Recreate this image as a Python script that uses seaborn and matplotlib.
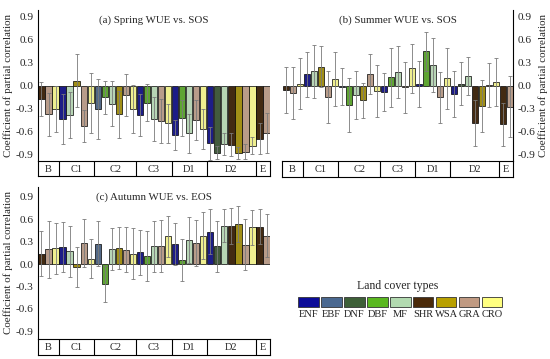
import matplotlib
matplotlib.use('Agg')
import matplotlib.pyplot as plt
import seaborn as sns
import numpy as np
import pandas as pd
from matplotlib.patches import Rectangle

sns.set_style("white")
plt.rcParams['font.family'] = ['Liberation Serif', 'DejaVu Serif']

# land cover type of every bar slot (same order in all panels)
slot_lc = ['SHR', 'GRA', 'CRO',
           'ENF', 'MF', 'WSA', 'GRA', 'CRO',
           'EBF', 'DBF', 'MF', 'WSA', 'GRA', 'CRO',
           'ENF', 'DBF', 'MF', 'GRA', 'CRO',
           'ENF', 'DBF', 'MF', 'GRA', 'CRO',
           'ENF', 'DNF', 'MF', 'SHR', 'WSA', 'GRA', 'CRO',
           'SHR', 'GRA']
zones = ['B', 'C1', 'C2', 'C3', 'D1', 'D2', 'E']
zone_sizes = [3, 5, 6, 5, 5, 7, 2]

lc_types = ['ENF', 'EBF', 'DNF', 'DBF', 'MF', 'SHR', 'WSA', 'GRA', 'CRO']
lc_colors = ['#0c0c98', '#4a6890', '#3e6038', '#5ab820', '#b2dab0',
             '#4a2a0a', '#b8a000', '#c09a82', '#ffff80']

# (a) Spring WUE vs. SOS
spring_val = [-0.17, -0.37, -0.30,
              -0.43, -0.38, 0.07, -0.52, -0.22,
              -0.30, -0.15, -0.23, -0.37, -0.12, -0.30,
              -0.38, -0.22, -0.43, -0.46, -0.49,
              -0.64, -0.42, -0.62, -0.44, -0.56,
              -0.75, -0.87, -0.76, -0.77, -0.88, -0.86, -0.78,
              -0.69, -0.61]
spring_err = [0.22, 0.28, 0.30,
              0.33, 0.30, 0.35, 0.21, 0.39,
              0.39, 0.22, 0.29, 0.31, 0.27, 0.31,
              0.27, 0.24, 0.29, 0.29, 0.25,
              0.20, 0.23, 0.26, 0.26, 0.26,
              0.22, 0.08, 0.14, 0.15, 0.08, 0.10, 0.11,
              0.20, 0.26]

# (b) Summer WUE vs. SOS
summer_val = [-0.05, -0.09, 0.03,
              0.15, 0.19, 0.25, -0.15, 0.09,
              -0.01, -0.25, -0.12, -0.19, 0.16, -0.07,
              -0.08, 0.11, 0.18, -0.02, 0.23,
              0.02, 0.45, 0.27, -0.15, 0.10,
              -0.10, 0.03, 0.13, -0.48, -0.26, 0.01, 0.05,
              -0.50, -0.27]
summer_err = [0.30, 0.34, 0.33,
              0.29, 0.35, 0.27, 0.34, 0.35,
              0.24, 0.35, 0.31, 0.23, 0.26, 0.34,
              0.25, 0.38, 0.34, 0.33, 0.32,
              0.30, 0.26, 0.35, 0.33, 0.40,
              0.30, 0.28, 0.25, 0.30, 0.34, 0.29, 0.31,
              0.28, 0.40]

# (c) Autumn WUE vs. EOS
autumn_val = [0.14, 0.20, 0.21,
              0.23, 0.17, -0.04, 0.28, 0.07,
              0.27, -0.27, 0.20, 0.21, 0.19, 0.14,
              0.16, 0.11, 0.24, 0.24, 0.37,
              0.27, 0.05, 0.32, 0.28, 0.38,
              0.43, 0.24, 0.51, 0.51, 0.54, 0.26, 0.49,
              0.50, 0.38]
autumn_err = [0.30, 0.38, 0.34,
              0.33, 0.34, 0.27, 0.32, 0.26,
              0.30, 0.24, 0.28, 0.28, 0.30, 0.34,
              0.30, 0.33, 0.34, 0.35, 0.27,
              0.28, 0.28, 0.31, 0.31, 0.31,
              0.30, 0.34, 0.22, 0.24, 0.24, 0.34, 0.23,
              0.23, 0.29]

color_of = dict(zip(lc_types, lc_colors))
n = len(slot_lc)
slot_pal = {i: color_of[slot_lc[i]] for i in range(n)}

fig = plt.figure(figsize=(5.5, 3.59), dpi=100)
fs = 7.5


def draw_panel(rect, strip_rect, vals, errs, title, side, ylim):
    ax = fig.add_axes(rect)
    df = pd.DataFrame({'slot': np.arange(n), 'r': vals})
    sns.barplot(data=df, x='slot', y='r', hue='slot', palette=slot_pal,
                legend=False, width=0.9, edgecolor='black', linewidth=0.5,
                errorbar=None, ax=ax)
    ax.errorbar(np.arange(n), vals, yerr=errs, fmt='none', ecolor='#7a7a7a',
                elinewidth=0.6, capsize=1.5, capthick=0.6, zorder=5)
    ax.set_xlim(-0.5, n - 0.5)
    ax.set_ylim(*ylim)
    ax.set_xticks([])
    ax.set_xlabel('')
    ax.set_yticks([-0.9, -0.6, -0.3, 0.0, 0.3, 0.6, 0.9])
    ax.set_yticklabels(['-0.9', '-0.6', '-0.3', '0.0', '0.3', '0.6', '0.9'])
    ax.tick_params(axis='y', length=0, pad=3, labelsize=8.2)
    for s in ['top', 'bottom', 'left', 'right']:
        ax.spines[s].set_visible(False)
    ax.spines[side].set_visible(True)
    ax.spines[side].set_linewidth(0.8)
    ax.spines[side].set_color('black')
    ax.set_ylabel('Coefficient of partial correlation', fontsize=7.9,
                  labelpad=2)
    if side == 'right':
        ax.yaxis.tick_right()
        ax.yaxis.set_label_position('right')
    ax.text(0.5, 0.935, title, transform=ax.transAxes, ha='center',
            va='center', fontsize=fs + 0.3)

    # climate zone strip
    sx = fig.add_axes(strip_rect)
    sx.set_xlim(-0.5, n - 0.5)
    sx.set_ylim(0, 1)
    sx.set_xticks([])
    sx.set_yticks([])
    for s in sx.spines.values():
        s.set_visible(True)
        s.set_linewidth(0.8)
        s.set_color('black')
    edges = np.cumsum([0] + zone_sizes) - 0.5
    for e in edges[1:-1]:
        sx.axvline(e, color='black', lw=0.8)
    for z, a, b in zip(zones, edges[:-1], edges[1:]):
        sx.text((a + b) / 2, 0.45, z, ha='center', va='center', fontsize=fs)
    return ax


draw_panel([0.069, 0.5515, 0.422, 0.4205], [0.069, 0.510, 0.422, 0.0415],
           spring_val, spring_err, '(a) Spring WUE vs. SOS', 'left', (-0.98, 0.99))
draw_panel([0.513, 0.5515, 0.420, 0.4205], [0.513, 0.507, 0.420, 0.0445],
           summer_val, summer_err, '(b) Summer WUE vs. SOS', 'right', (-0.98, 0.99))
draw_panel([0.069, 0.056, 0.422, 0.423], [0.069, 0.011, 0.422, 0.045],
           autumn_val, autumn_err, '(c) Autumn WUE vs. EOS', 'left', (-1.0, 1.03))

# legend of land cover types
lg = fig.add_axes([0.54, 0.10, 0.376, 0.12])
lg.set_xlim(0, len(lc_types))
lg.set_ylim(0, 1)
lg.axis('off')
lg.text(len(lc_types) / 2 - 0.1, 0.85, 'Land cover types', ha='center',
        va='center', fontsize=fs + 1)
for i, (name, col) in enumerate(zip(lc_types, lc_colors)):
    lg.add_patch(Rectangle((i + 0.06, 0.38), 0.88, 0.23, facecolor=col,
                           edgecolor='#333333', lw=0.6))
    lg.text(i + 0.5, 0.2, name, ha='center', va='center', fontsize=fs,
            color='#222222')

fig.savefig('out.png', dpi=100, facecolor='white')
